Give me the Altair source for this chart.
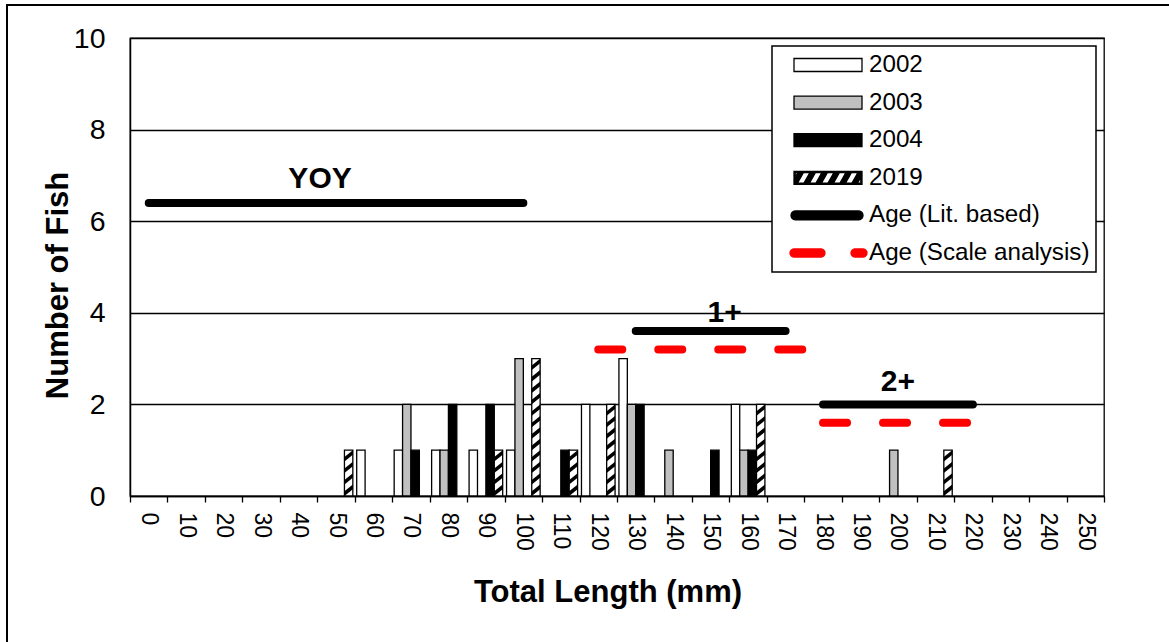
import math
import altair as alt
import pandas as pd

# ---------------- data ----------------
categories = ["0", "10", "20", "30", "40", "50", "60", "70", "80", "90", "100",
              "110", "120", "130", "140", "150", "160", "170", "180", "190",
              "200", "210", "220", "230", "240", "250"]
series_names = ["2002", "2003", "2004", "2019"]
counts_2002 = [0, 0, 0, 0, 0, 0, 1, 1, 1, 1, 1, 0, 2, 3, 0, 0, 2, 0, 0, 0, 0, 0, 0, 0, 0, 0]
counts_2003 = [0, 0, 0, 0, 0, 0, 0, 2, 1, 0, 3, 0, 0, 2, 1, 0, 1, 0, 0, 0, 1, 0, 0, 0, 0, 0]
counts_2004 = [0, 0, 0, 0, 0, 0, 0, 1, 2, 2, 0, 1, 0, 2, 0, 1, 1, 0, 0, 0, 0, 0, 0, 0, 0, 0]
counts_2019 = [0, 0, 0, 0, 0, 1, 0, 0, 0, 1, 3, 1, 2, 0, 0, 0, 2, 0, 0, 0, 0, 1, 0, 0, 0, 0]

lit_start = ["0", "130", "180"]
lit_end = ["100", "170", "220"]
lit_value = [6.4, 3.6, 2.0]

scale_start = ["120", "180"]
scale_end = ["180", "220"]
scale_value = [3.2, 1.6]

age_labels = ["YOY", "1+", "2+"]
age_label_cat = ["50", "150", "200"]
age_label_value = [6.72, 3.81, 2.30]

legend_names = ["2002", "2003", "2004", "2019", "Age (Lit. based)", "Age (Scale analysis)"]

# ---------------- styles ----------------
FONT = "Liberation Sans"
bar_fills = {"2002": "white", "2003": "#c0c0c0", "2004": "black", "2019": "white"}
label_dx = [-16, 14, 0]

all_counts = [counts_2002, counts_2003, counts_2004, counts_2019]
rows = []
for s, arr in zip(series_names, all_counts):
    for c, v in zip(categories, arr):
        rows.append({"cat": c, "series": s, "value": v})
bars_df = pd.DataFrame(rows)

# hatch stripes for the 2019 bars (drawn over the white bars)
HSTEP = 0.25
hatch_rows = []
for c, v in zip(categories, counts_2019):
    k = 0
    while (k + 0.5) * HSTEP < v:
        hatch_rows.append({"cat": c, "series": "2019", "value": (k + 0.5) * HSTEP})
        k += 1
hatch_df = pd.DataFrame(hatch_rows)

lit_df = pd.DataFrame({"cat": lit_start, "cat_end": lit_end, "value": lit_value})
scale_df = pd.DataFrame({"cat": scale_start, "cat_end": scale_end, "value": scale_value})
lab_df = pd.DataFrame({"cat": age_label_cat, "value": age_label_value, "label": age_labels})
legend_df = pd.DataFrame({"legend": legend_names})

# ---------------- legend symbol paths ----------------
S = 34.0  # half-width of legend symbol in px (symbol size = 68^2)


def fmt(pts):
    return "M" + " L".join(f"{x / S:.4f},{y / S:.4f}" for x, y in pts) + " Z"


def rect_pts(x0, x1, y0, y1):
    return [(x0, y0), (x1, y0), (x1, y1), (x0, y1)]


def stadium(xa, xb, r, n=10):
    pts = []
    for k in range(n + 1):
        a = -math.pi / 2 + math.pi * k / n
        pts.append((xb + r * math.cos(a), r * math.sin(a)))
    for k in range(n + 1):
        a = math.pi / 2 + math.pi * k / n
        pts.append((xa + r * math.cos(a), r * math.sin(a)))
    return fmt(pts)


def clip_x(poly, xmin, xmax):
    def clip(pts, inside, inter):
        out = []
        for i in range(len(pts)):
            cur, prev = pts[i], pts[i - 1]
            if inside(cur):
                if not inside(prev):
                    out.append(inter(prev, cur))
                out.append(cur)
            elif inside(prev):
                out.append(inter(prev, cur))
        return out

    def ix(xc):
        def f(p, q):
            t = (xc - p[0]) / (q[0] - p[0])
            return (xc, p[1] + t * (q[1] - p[1]))
        return f

    poly = clip(poly, lambda p: p[0] >= xmin, ix(xmin))
    if poly:
        poly = clip(poly, lambda p: p[0] <= xmax, ix(xmax))
    return poly


H = 6.5
bar_sym = fmt(rect_pts(-34, 34, -H, H))
inset = 1.2
hatch_parts = [fmt(rect_pts(-34, 34, -H, H)),
               fmt(rect_pts(-34 + inset, 34 - inset, -H + inset, H - inset)[::-1])]
b = -34 - 14
while b < 34:
    stripe = [(b, H - inset), (b + 6, -H + inset), (b + 11.5, -H + inset), (b + 5.5, H - inset)]
    cl = clip_x(stripe, -34 + inset, 34 - inset)
    if len(cl) >= 3:
        hatch_parts.append(fmt(cl))
    b += 12
hatch_sym = " ".join(hatch_parts)
lit_sym = stadium(-32.5, 30.5, 4.5)
dash_sym = stadium(-34, -7, 4) + " " + stadium(27, 35, 4)

legend_fills = ["white", "#c0c0c0", "black", "black", "black", "#ff0000"]
legend_strokes = ["black", "black", "black", "black", "black", "#ff0000"]
legend_shapes = [bar_sym, bar_sym, bar_sym, hatch_sym, lit_sym, dash_sym]

# bar hatch stripe shape ("/" parallelogram spanning the full bar width)
bar_hatch_shape = "M-1,1.35 L1,-0.25 L1,-1.35 L-1,0.25 Z"

# ---------------- scales / axes ----------------
BAND = 974 / len(categories)
OFF_PAD = 0.23
BAR_W = BAND / (len(series_names) + 2 * OFF_PAD)

x_scale = alt.Scale(domain=categories, paddingInner=0, paddingOuter=0)
x_axis = alt.Axis(
    title="Total Length (mm)", tickBand="extent", labelAngle=90, labelAlign="left",
    labelBaseline="middle", labelFontSize=23, labelFont=FONT, labelColor="black",
    labelPadding=10, tickSize=6, tickColor="black", tickWidth=1.3,
    domainColor="black", domainWidth=1.5, grid=False, labelOverlap=False,
    titleFont=FONT, titleFontSize=31, titleFontWeight="bold", titleColor="black",
    titleX=477.5, titleY=96, titleAlign="center", titleBaseline="middle",
)
y_scale = alt.Scale(domain=[0, 10], nice=False)
y_axis = alt.Axis(
    title="Number of Fish", values=[0, 2, 4, 6, 8, 10], ticks=False, tickSize=0,
    labelPadding=25, labelFontSize=28.5, labelFont=FONT, labelColor="black",
    grid=True, gridColor="black", gridWidth=1.3, gridOpacity=1,
    domainColor="black", domainWidth=1.5,
    titleFont=FONT, titleFontSize=31, titleFontWeight="bold", titleColor="black",
    titleX=-72, titleY=247, titleAlign="center", titleBaseline="middle",
)
xoff_scale = alt.Scale(domain=series_names, paddingInner=0, paddingOuter=OFF_PAD)


def X():
    return alt.X("cat:O", sort=categories, scale=x_scale, axis=x_axis, title="Total Length (mm)")


def Y():
    return alt.Y("value:Q", scale=y_scale, axis=y_axis, title="Number of Fish")


layers = []

# outer frame of the figure
frame = alt.Chart(pd.DataFrame({"a": [0]})).mark_rect(
    fill="transparent", stroke="black", strokeWidth=2
).encode(x=alt.value(-123), x2=alt.value(1060), y=alt.value(-33), y2=alt.value(620))
layers.append(frame)

for s in series_names:
    layers.append(
        alt.Chart(bars_df).transform_filter(
            f"datum.series == '{s}' && datum.value > 0"
        ).mark_bar(fill=bar_fills[s], stroke="black", strokeWidth=1.3).encode(
            x=X(), y=Y(),
            xOffset=alt.XOffset("series:N", scale=xoff_scale),
        )
    )

layers.append(
    alt.Chart(hatch_df).mark_point(
        shape=bar_hatch_shape, size=BAR_W ** 2, filled=True, color="black",
        strokeWidth=0, opacity=1,
    ).encode(x=X(), y=Y(), xOffset=alt.XOffset("series:N", scale=xoff_scale))
)

layers.append(
    alt.Chart(lit_df).mark_rule(strokeWidth=8, strokeCap="round", color="black").encode(
        x=X(), x2="cat_end:O", y=Y()
    )
)
layers.append(
    alt.Chart(scale_df).mark_rule(
        strokeWidth=8, strokeCap="round", color="#ff0000", strokeDash=[24, 36]
    ).encode(x=X(), x2="cat_end:O", y=Y())
)

for lab, dx in zip(age_labels, label_dx):
    layers.append(
        alt.Chart(lab_df).transform_filter(f"datum.label == '{lab}'").mark_text(
            font=FONT, fontSize=30, fontWeight="bold", color="black",
            align="center", baseline="alphabetic", dx=dx,
        ).encode(x=X(), y=Y(), text="label:N")
    )

leg = alt.Legend(
    title=None, orient="none", legendX=642, legendY=8,
    symbolSize=68 * 68, symbolStrokeWidth=1.3, clipHeight=26, rowPadding=11.6,
    padding=6, symbolOffset=15, labelOffset=6, labelFont=FONT, labelFontSize=24.2,
    labelColor="black", labelLimit=400, strokeColor="black", fillColor="white",
)
layers.append(
    alt.Chart(legend_df).transform_filter("datum.legend == 'none'").mark_point(
        filled=True, opacity=1
    ).encode(
        fill=alt.Fill("legend:N", scale=alt.Scale(domain=legend_names, range=legend_fills), legend=leg),
        stroke=alt.Stroke("legend:N", scale=alt.Scale(domain=legend_names, range=legend_strokes), legend=leg),
        shape=alt.Shape("legend:N", scale=alt.Scale(domain=legend_names, range=legend_shapes), legend=leg),
    )
)

chart = alt.layer(*layers).properties(
    width=974, height=458,
    autosize=alt.AutoSizeParams(type="none"),
    padding={"left": 130, "top": 38, "right": 65, "bottom": 146},
    background="white",
).configure_view(stroke="black", strokeWidth=1.3).configure_legend(strokeWidth=1.5)

chart.save("out.html", embed_options={"renderer": "svg", "actions": False})
